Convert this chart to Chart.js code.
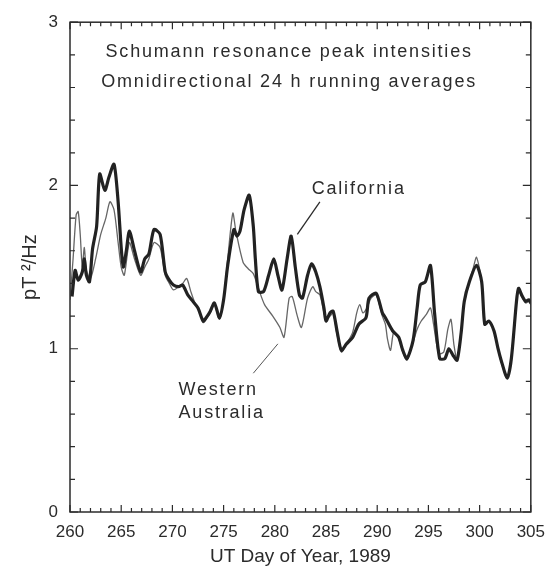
<!DOCTYPE html>
<html>
<head>
<meta charset="utf-8">
<script src="https://cdn.jsdelivr.net/npm/chart.js@4"></script>
<style>
  html, body { margin: 0; padding: 0; background: #fff; }
  #wrap { width: 555px; height: 568px; }
</style>
</head>
<body>
<div id="wrap"><canvas id="chart" width="555" height="568"></canvas></div>
<script>
// California (thick line)
const caDays = [260.2, 260.5, 260.8, 261.2, 261.4, 261.6, 261.9, 262.2, 262.6, 262.9, 263.4, 263.8, 264.3, 264.7, 265.0, 265.2,
  265.5, 265.8, 266.3, 266.9, 267.3, 267.7, 268.2, 268.8, 269.3, 269.7, 270.1, 270.6, 271.0, 271.5, 272.0, 272.5, 273.0,
  273.4, 273.7, 274.1, 274.6, 275.0, 275.4, 276.0, 276.3, 276.6, 277.0, 277.5, 277.9, 278.1, 278.4, 278.9, 279.4, 279.9,
  280.3, 280.7, 281.2, 281.6, 282.0, 282.4, 282.7, 283.2, 283.6, 284.0, 284.4, 284.8, 285.0, 285.4, 285.7, 286.1, 286.5,
  287.0, 287.6, 288.2, 288.9, 289.2, 289.9, 290.5, 290.8, 291.5, 292.1, 292.5, 292.9, 293.5, 293.9, 294.2, 294.7, 295.2,
  295.6, 296.1, 296.6, 297.0, 297.4, 297.8, 298.2, 298.5, 299.0, 299.7, 300.2, 300.5, 300.9, 301.4, 301.8, 302.1, 302.7,
  303.1, 303.6, 303.8, 304.1, 304.5, 304.8, 305.0];
const caValues = [1.32, 1.48, 1.42, 1.47, 1.55, 1.45, 1.41, 1.61, 1.75, 2.07, 1.97, 2.05, 2.13, 1.90, 1.62, 1.50,
  1.60, 1.72, 1.60, 1.47, 1.55, 1.58, 1.73, 1.70, 1.47, 1.42, 1.39, 1.38, 1.39, 1.33, 1.29, 1.25, 1.17,
  1.20, 1.23, 1.28, 1.19, 1.30, 1.51, 1.73, 1.69, 1.72, 1.85, 1.94, 1.75, 1.55, 1.35, 1.35, 1.45, 1.55,
  1.45, 1.36, 1.55, 1.69, 1.50, 1.33, 1.31, 1.45, 1.52, 1.47, 1.38, 1.25, 1.17, 1.22, 1.23, 1.10, 0.99,
  1.03, 1.07, 1.15, 1.19, 1.31, 1.34, 1.22, 1.19, 1.11, 1.07, 0.99, 0.94, 1.05, 1.25, 1.39, 1.41, 1.51,
  1.22, 0.94, 0.94, 1.00, 0.96, 0.93, 1.10, 1.29, 1.41, 1.51, 1.41, 1.15, 1.17, 1.11, 1.00, 0.93, 0.82,
  0.94, 1.29, 1.37, 1.33, 1.29, 1.30, 1.28];

// Western Australia (thin line)
const waDays = [260.0, 260.3, 260.6, 260.8, 261.0, 261.2, 261.4, 261.6, 262.0, 262.5, 263.0, 263.5, 263.9, 264.3, 264.7,
  265.0, 265.3, 265.8, 266.3, 266.9, 267.3, 267.7, 268.2, 268.8, 269.3, 269.7, 270.1, 270.6, 271.0, 271.4, 271.8, 272.2,
  272.6, 273.0, 273.4, 273.7, 274.1, 274.6, 275.0, 275.4, 275.9, 276.2, 276.9, 277.4, 277.9, 278.4, 279.0, 279.8, 280.5,
  280.9, 281.4, 281.7, 282.2, 282.6, 283.2, 283.7, 284.0, 284.4, 284.8, 285.0, 285.4, 285.7, 286.1, 286.5, 287.0, 287.6,
  288.0, 288.3, 288.6, 289.0, 289.4, 289.9, 290.5, 290.8, 291.0, 291.3, 291.6, 292.0, 292.5, 292.9, 293.5, 293.9, 294.3,
  294.8, 295.2, 295.5, 296.0, 296.5, 296.9, 297.2, 297.5, 297.8, 298.2, 298.5, 299.0, 299.4, 299.7, 300.2, 300.5, 300.9,
  301.4, 301.8, 302.1, 302.7, 303.1, 303.6, 303.8, 304.1, 304.5, 304.8, 305.0];
const waValues = [1.30, 1.55, 1.82, 1.84, 1.70, 1.50, 1.62, 1.48, 1.43, 1.55, 1.70, 1.80, 1.90, 1.85, 1.65,
  1.50, 1.45, 1.65, 1.55, 1.45, 1.50, 1.55, 1.65, 1.62, 1.45, 1.40, 1.36, 1.38, 1.40, 1.43, 1.35, 1.28,
  1.24, 1.16, 1.19, 1.22, 1.27, 1.18, 1.30, 1.55, 1.83, 1.72, 1.53, 1.49, 1.46, 1.37, 1.27, 1.20, 1.13,
  1.07, 1.31, 1.32, 1.20, 1.13, 1.31, 1.38, 1.35, 1.33, 1.22, 1.18, 1.20, 1.22, 1.08, 0.98, 1.03, 1.10,
  1.22, 1.27, 1.22, 1.25, 1.31, 1.33, 1.20, 1.15, 1.06, 0.99, 1.10, 1.08, 0.98, 0.93, 1.04, 1.12, 1.17,
  1.21, 1.25, 1.15, 0.97, 0.98, 1.12, 1.18, 1.02, 0.93, 1.10, 1.28, 1.41, 1.50, 1.56, 1.41, 1.15, 1.17,
  1.11, 1.00, 0.92, 0.82, 0.95, 1.28, 1.36, 1.32, 1.28, 1.29, 1.27];

const xTicks = [260, 265, 270, 275, 280, 285, 290, 295, 300, 305];
const yTicks = [0, 1, 2, 3];

const titleLines = ["Schumann resonance peak intensities", "Omnidirectional 24 h running averages"];

const FONT = "'Liberation Sans', Arial, sans-serif";
const INK = "#2b2b2b";

const toXY = (days, vals) => days.map((d, i) => ({ x: d, y: vals[i] }));

// 안쪽 눈금, 위/오른쪽 테두리, 주석 글씨
const framePlugin = {
  id: "frame",
  afterDraw(chart) {
    const { ctx, chartArea: a, scales } = chart;
    const xs = scales.x, ys = scales.y;
    ctx.save();
    ctx.strokeStyle = INK;
    ctx.lineWidth = 1.5;
    ctx.strokeRect(a.left, a.top, a.right - a.left, a.bottom - a.top);

    ctx.lineWidth = 1.2;
    ctx.beginPath();
    for (let d = 260; d <= 305; d++) {
      const px = xs.getPixelForValue(d);
      const len = d % 5 === 0 ? 7 : 4;
      ctx.moveTo(px, a.bottom); ctx.lineTo(px, a.bottom - len);
      ctx.moveTo(px, a.top); ctx.lineTo(px, a.top + len);
    }
    for (let k = 0; k <= 15; k++) {
      const v = k * 0.2;
      const py = ys.getPixelForValue(v);
      const len = k % 5 === 0 ? 8 : 5;
      ctx.moveTo(a.left, py); ctx.lineTo(a.left + len, py);
      ctx.moveTo(a.right, py); ctx.lineTo(a.right - len, py);
    }
    ctx.stroke();

    // 주석
    ctx.fillStyle = INK;
    ctx.textBaseline = "middle";
    ctx.font = "18px " + FONT;
    ctx.letterSpacing = "1.8px";
    ctx.textAlign = "center";
    ctx.fillText(titleLines[0], xs.getPixelForValue(281.4), ys.getPixelForValue(2.815));
    ctx.fillText(titleLines[1], xs.getPixelForValue(281.4), ys.getPixelForValue(2.635));

    ctx.textAlign = "left";
    ctx.fillText("California", xs.getPixelForValue(283.6), ys.getPixelForValue(1.98));
    ctx.fillText("Western", xs.getPixelForValue(270.6), ys.getPixelForValue(0.745));
    ctx.fillText("Australia", xs.getPixelForValue(270.6), ys.getPixelForValue(0.605));

    ctx.lineWidth = 1.3;
    ctx.beginPath();
    ctx.moveTo(xs.getPixelForValue(284.4), ys.getPixelForValue(1.90));
    ctx.lineTo(xs.getPixelForValue(282.2), ys.getPixelForValue(1.70));
    ctx.stroke();
    ctx.lineWidth = 1;
    ctx.strokeStyle = "#555";
    ctx.beginPath();
    ctx.moveTo(xs.getPixelForValue(277.9), ys.getPixelForValue(0.85));
    ctx.lineTo(xs.getPixelForValue(280.3), ys.getPixelForValue(1.03));
    ctx.stroke();
    ctx.restore();
  }
};

const ctx = document.getElementById("chart").getContext("2d");

new Chart(ctx, {
  type: "line",
  data: {
    datasets: [
      {
        label: "California",
        data: toXY(caDays, caValues),
        borderColor: "#222",
        borderWidth: 3.2,
        pointRadius: 0,
        tension: 0.25,
      },
      {
        label: "Western Australia",
        data: toXY(waDays, waValues),
        borderColor: "#666",
        borderWidth: 1.3,
        pointRadius: 0,
        tension: 0.25,
      },
    ],
  },
  options: {
    responsive: false,
    animation: false,
    layout: { padding: { top: 19, right: 18, left: 0, bottom: 0 } },
    plugins: { legend: { display: false }, tooltip: { enabled: false } },
    scales: {
      x: {
        type: "linear",
        min: 260,
        max: 305,
        afterBuildTicks: (s) => { s.ticks = xTicks.map((v) => ({ value: v })); },
        afterFit: (s) => { s.height = 56; },
        grid: { display: false, drawTicks: false },
        border: { display: false },
        ticks: {
          padding: 10,
          maxRotation: 0,
          autoSkip: false,
          color: INK,
          font: { family: FONT, size: 17 },
        },
        title: {
          display: true,
          text: "UT Day of Year, 1989",
          color: INK,
          padding: { top: 0, bottom: 0 },
          font: { family: FONT, size: 19 },
        },
      },
      y: {
        min: 0,
        max: 3,
        afterBuildTicks: (s) => { s.ticks = yTicks.map((v) => ({ value: v })); },
        afterFit: (s) => { s.width = 70; },
        grid: { display: false, drawTicks: false },
        border: { display: false },
        ticks: {
          padding: 12,
          color: INK,
          font: { family: FONT, size: 17 },
        },
        title: {
          display: true,
          text: "pT ²/Hz",
          color: INK,
          padding: { top: 18, bottom: 0 },
          font: { family: FONT, size: 20 },
        },
      },
    },
  },
  plugins: [framePlugin],
});
</script>
</body>
</html>
